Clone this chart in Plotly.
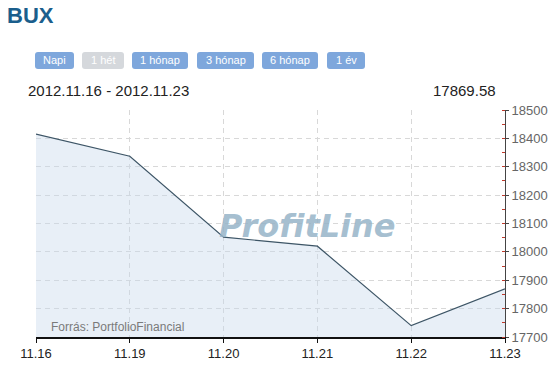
import plotly.graph_objects as go

# ---- data ----
dates = ["11.16", "11.19", "11.20", "11.21", "11.22", "11.23"]
values = [18415, 18337, 18052, 18020, 17740, 17869.58]
y_ticks = [17700, 17800, 17900, 18000, 18100, 18200, 18300, 18400, 18500]
y_tick_labels = [str(v) for v in y_ticks]
buttons = ["Napi", "1 hét", "1 hónap", "3 hónap", "6 hónap", "1 év"]
title = "BUX"
period_text = "2012.11.16 - 2012.11.23"
last_value_text = "17869.58"
source_text = "Forrás: PortfolioFinancial"
watermark = "ProfitLine"

W, H = 553, 370
L, R, T, B = 36, 48, 110, 33
PW, PH = W - L - R, H - T - B


def px(x):
    return (x - L) / PW


def py(y):
    return (H - B - y) / PH


def rounded(x0, y0, x1, y1, r=3):
    X0, X1 = px(x0), px(x1)
    Y0, Y1 = py(y0), py(y1)
    rx, ry = r / PW, r / PH
    return (f"M{X0+rx},{Y0} L{X1-rx},{Y0} Q{X1},{Y0} {X1},{Y0-ry} "
            f"L{X1},{Y1+ry} Q{X1},{Y1} {X1-rx},{Y1} L{X0+rx},{Y1} "
            f"Q{X0},{Y1} {X0},{Y1+ry} L{X0},{Y0-ry} Q{X0},{Y0} {X0+rx},{Y0} Z")


xs = list(range(len(dates)))

fig = go.Figure()
fig.add_trace(go.Scatter(
    x=xs, y=values, mode="lines",
    line=dict(color="#3d5566", width=1.2),
    fill="tozeroy", fillcolor="rgba(200,218,236,0.42)",
    hoverinfo="skip",
))

shapes = []
annotations = []

btn_pos = [(35, 74), (82, 124), (132, 188), (197, 254), (262, 318), (327, 365)]
for label, (bx0, bx1) in zip(buttons, btn_pos):
    color = "#d5d8dc" if label == "1 hét" else "#7ea7dc"
    shapes.append(dict(type="path", xref="paper", yref="paper",
                       path=rounded(bx0, 52, bx1, 69, 3),
                       fillcolor=color, line=dict(width=0), layer="above"))
    annotations.append(dict(x=px((bx0 + bx1) / 2), y=py(60.5), xref="paper", yref="paper",
                            text=label, showarrow=False,
                            font=dict(family="Liberation Sans, Arial", size=11, color="white"),
                            xanchor="center", yanchor="middle"))

annotations += [
    dict(x=px(5), y=py(15), xref="paper", yref="paper", text=f"<b>{title}</b>",
         showarrow=False, xanchor="left", yanchor="middle",
         font=dict(family="Liberation Sans, Arial", size=22, color="#1b5e8c")),
    dict(x=px(26), y=py(90), xref="paper", yref="paper", text=period_text,
         showarrow=False, xanchor="left", yanchor="middle",
         font=dict(family="Liberation Sans, Arial", size=15, color="#222")),
    dict(x=px(498), y=py(90), xref="paper", yref="paper", text=last_value_text,
         showarrow=False, xanchor="right", yanchor="middle",
         font=dict(family="Liberation Sans, Arial", size=15, color="#222")),
    dict(x=px(49), y=py(327), xref="paper", yref="paper", text=source_text,
         showarrow=False, xanchor="left", yanchor="middle",
         font=dict(family="Liberation Sans, Arial", size=12, color="#7a7a7a")),
    dict(x=px(307), y=py(226), xref="paper", yref="paper", text=f"<b><i>{watermark}</i></b>",
         showarrow=False, xanchor="center", yanchor="middle",
         font=dict(family="DejaVu Sans, Arial", size=32, color="rgba(150,180,200,0.85)")),
]

fig.update_layout(
    width=W, height=H,
    margin=dict(l=L, r=R, t=T, b=B, pad=0, autoexpand=False),
    paper_bgcolor="white", plot_bgcolor="white",
    showlegend=False,
    shapes=shapes, annotations=annotations,
    xaxis=dict(
        range=[0, len(dates) - 1], tickmode="array", tickvals=xs, ticktext=dates,
        showgrid=True, gridcolor="#d8d8d8", griddash="5px,4px", gridwidth=1,
        showline=True, linecolor="#111", linewidth=1.5,
        ticks="outside", ticklen=4, tickcolor="#111",
        tickfont=dict(family="Liberation Sans, Arial", size=13, color="#222"),
        zeroline=False, fixedrange=True, automargin=False,
    ),
    yaxis=dict(
        range=[17700, 18500], side="right", tickmode="array",
        tickvals=y_ticks, ticktext=y_tick_labels,
        showgrid=True, gridcolor="#d8d8d8", griddash="5px,4px", gridwidth=1,
        showline=True, linecolor="#444", linewidth=1,
        ticks="outside", ticklen=3, tickcolor="#444",
        minor=dict(ticks="inside", ticklen=3, tickcolor="#c0392b", dtick=50, tick0=17750, showgrid=False),
        tickfont=dict(family="Liberation Sans, Arial", size=13, color="#666"),
        zeroline=False, fixedrange=True, automargin=False,
    ),
)

fig.write_html("out.html")
